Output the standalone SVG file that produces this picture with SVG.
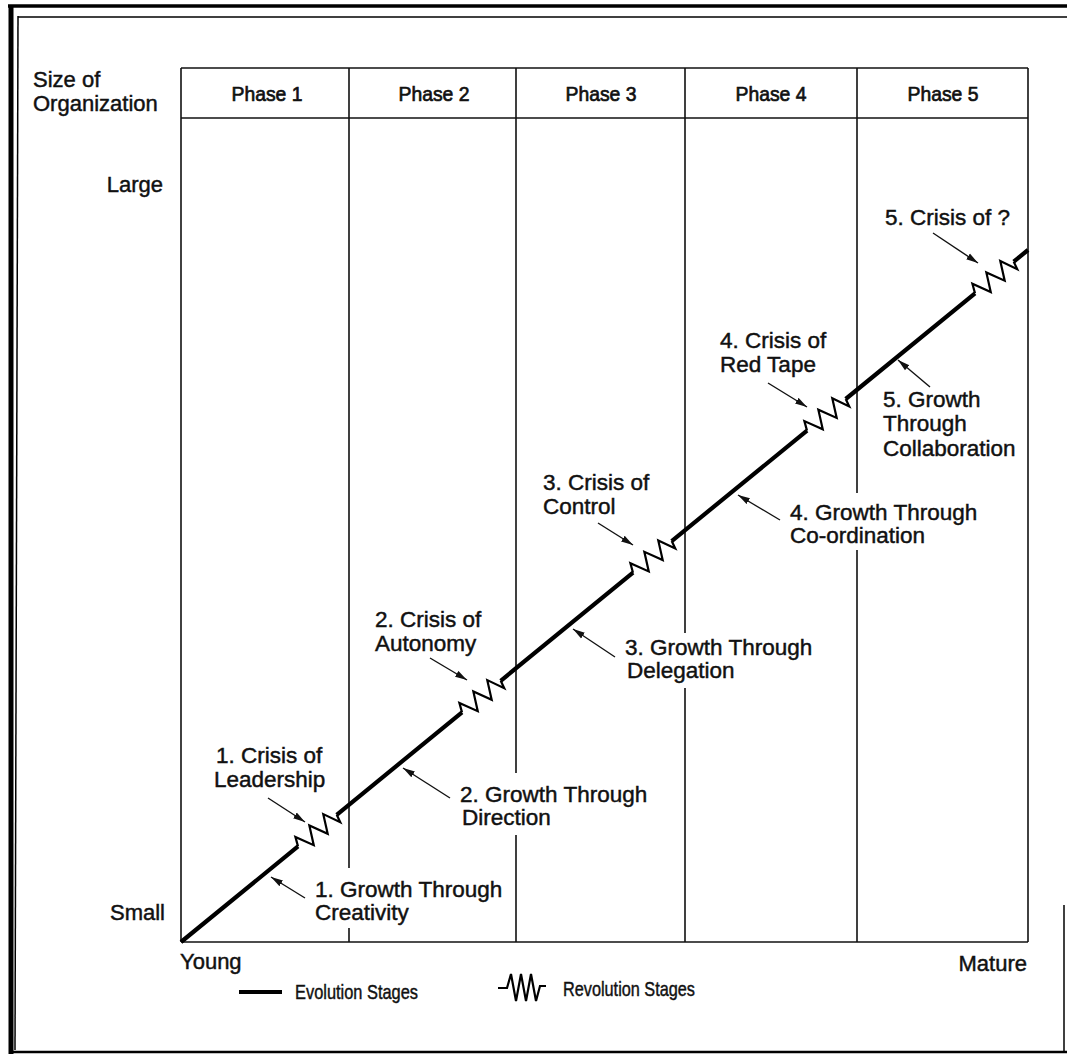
<svg xmlns="http://www.w3.org/2000/svg" width="1067" height="1057" viewBox="0 0 1067 1057">
<style>
  text { font-family: "Liberation Sans", Arial, sans-serif; fill: #111; stroke: #111; stroke-width: 0.45; }
  .lbl { font-size: 22.5px; }
  .ax { font-size: 22px; }
  .ph { font-size: 21px; text-anchor: middle; stroke-width: 0.7; }
  .lg { font-size: 21px; }
  .grid { stroke: #111; stroke-width: 1.6; fill: none; }
  .evo { stroke: #000; stroke-width: 4.2; fill: none; stroke-linecap: butt; }
  .rev { stroke: #000; stroke-width: 2.2; fill: none; stroke-linejoin: miter; }
  .arr { stroke: #111; stroke-width: 1.4; fill: none; marker-end: url(#ah); }
  .frame { stroke: #000; fill: none; }
</style>
<defs>
  <marker id="ah" markerUnits="userSpaceOnUse" markerWidth="13" markerHeight="8" refX="12" refY="4" orient="auto">
    <path d="M0,0.6 L12,4 L0,7.4 Z" fill="#111"/>
  </marker>
  <path id="zz" d="M0,0 L4,-9 L13,9 L22,-9 L31,9 L40,-9 L48,8 L50,0"/>
</defs>
<rect x="0" y="0" width="1067" height="1057" fill="#fff"/>

<g id="frame">
  <line class="frame" x1="8" y1="6" x2="1067" y2="6" stroke-width="3.5"/>
  <line class="frame" x1="11" y1="5" x2="11" y2="1054" stroke-width="5"/>
  <line class="frame" x1="18" y1="17" x2="1067" y2="17" stroke-width="1.5"/>
  <line class="frame" x1="18" y1="16" x2="15" y2="1050" stroke-width="1.5"/>
  <line class="frame" x1="9" y1="1052" x2="1067" y2="1052" stroke-width="2.5"/>
  <line class="frame" x1="1064" y1="905" x2="1064" y2="1052" stroke-width="1.5"/>
</g>

<g id="grid">
  <line class="grid" x1="181" y1="68" x2="1028" y2="68"/>
  <line class="grid" x1="181" y1="118" x2="1028" y2="118"/>
  <line class="grid" x1="181" y1="942" x2="1028" y2="942"/>
  <line class="grid" x1="181" y1="68" x2="181" y2="942"/>
  <line class="grid" x1="1028" y1="68" x2="1028" y2="942"/>
  <path class="grid" d="M349,68 V868 M349,928 V942"/>
  <path class="grid" d="M516,68 V773 M516,835 V942"/>
  <path class="grid" d="M685,68 V633 M685,688 V942"/>
  <path class="grid" d="M857,68 V493 M857,550 V942"/>
</g>

<g id="phases">
  <text class="ph" x="267" y="101" textLength="71" lengthAdjust="spacingAndGlyphs">Phase 1</text>
  <text class="ph" x="434" y="101" textLength="71" lengthAdjust="spacingAndGlyphs">Phase 2</text>
  <text class="ph" x="601" y="101" textLength="71" lengthAdjust="spacingAndGlyphs">Phase 3</text>
  <text class="ph" x="771" y="101" textLength="71" lengthAdjust="spacingAndGlyphs">Phase 4</text>
  <text class="ph" x="943" y="101" textLength="71" lengthAdjust="spacingAndGlyphs">Phase 5</text>
</g>

<g id="axis-labels">
  <text class="ax" x="33" y="87">Size of</text>
  <text class="ax" x="33" y="111">Organization</text>
  <text class="ax" x="163" y="192" text-anchor="end">Large</text>
  <text class="ax" x="165" y="920" text-anchor="end">Small</text>
  <text class="ax" x="180" y="969">Young</text>
  <text class="ax" x="1027" y="971" text-anchor="end">Mature</text>
</g>

<g id="growth-curve">
  <path class="evo" d="M181,942 L298,846.4 M336.7,814.8 L462,712.4 M500.7,680.8 L633,572.7 M671.7,541.1 L807,430.6 M845.7,399 L975,293.3 M1013.7,261.7 L1028,250"/>
  <use href="#zz" class="rev" transform="translate(298,846.4) rotate(-39.25)"/>
  <use href="#zz" class="rev" transform="translate(462,712.4) rotate(-39.25)"/>
  <use href="#zz" class="rev" transform="translate(633,572.7) rotate(-39.25)"/>
  <use href="#zz" class="rev" transform="translate(807,430.6) rotate(-39.25)"/>
  <use href="#zz" class="rev" transform="translate(975,293.3) rotate(-39.25)"/>
</g>

<g id="connectors">
  <line class="arr" x1="268" y1="798" x2="305" y2="822"/>
  <line class="arr" x1="430" y1="658" x2="467" y2="680"/>
  <line class="arr" x1="598" y1="523" x2="633" y2="545"/>
  <line class="arr" x1="768" y1="383" x2="807" y2="407"/>
  <line class="arr" x1="933" y1="233" x2="978" y2="263"/>
  <line class="arr" x1="305" y1="898" x2="271" y2="877"/>
  <line class="arr" x1="450" y1="798" x2="403" y2="768"/>
  <line class="arr" x1="615" y1="657" x2="573" y2="629"/>
  <line class="arr" x1="780" y1="520" x2="738" y2="495"/>
  <line class="arr" x1="930" y1="387" x2="898" y2="360"/>
</g>

<g id="crisis-1"><text class="lbl" x="216" y="763">1. Crisis of</text><text class="lbl" x="214" y="787">Leadership</text></g>
<g id="growth-1"><text class="lbl" x="315" y="897">1. Growth Through</text><text class="lbl" x="315" y="920">Creativity</text></g>
<g id="crisis-2"><text class="lbl" x="375" y="627">2. Crisis of</text><text class="lbl" x="375" y="651">Autonomy</text></g>
<g id="growth-2"><text class="lbl" x="460" y="802">2. Growth Through</text><text class="lbl" x="462" y="825">Direction</text></g>
<g id="crisis-3"><text class="lbl" x="543" y="490">3. Crisis of</text><text class="lbl" x="543" y="514">Control</text></g>
<g id="growth-3"><text class="lbl" x="625" y="655">3. Growth Through</text><text class="lbl" x="627" y="678">Delegation</text></g>
<g id="crisis-4"><text class="lbl" x="720" y="348">4. Crisis of</text><text class="lbl" x="720" y="372">Red Tape</text></g>
<g id="growth-4"><text class="lbl" x="790" y="520">4. Growth Through</text><text class="lbl" x="790" y="543">Co-ordination</text></g>
<g id="crisis-5"><text class="lbl" x="1010" y="225" text-anchor="end">5. Crisis of ?</text></g>
<g id="growth-5"><text class="lbl" x="883" y="407">5. Growth</text><text class="lbl" x="883" y="431">Through</text><text class="lbl" x="883" y="456">Collaboration</text></g>

<g id="legend">
  <line class="evo" x1="239" y1="992" x2="282" y2="992"/>
  <text class="lg" x="295" y="999" textLength="123" lengthAdjust="spacingAndGlyphs">Evolution Stages</text>
  <path class="rev" d="M498,988 H507 L511,974 L516,1001 L521,974 L526,1001 L531,974 L536,1001 L540,986 H546"/>
  <text class="lg" x="563" y="996" textLength="132" lengthAdjust="spacingAndGlyphs">Revolution Stages</text>
</g>
</svg>
